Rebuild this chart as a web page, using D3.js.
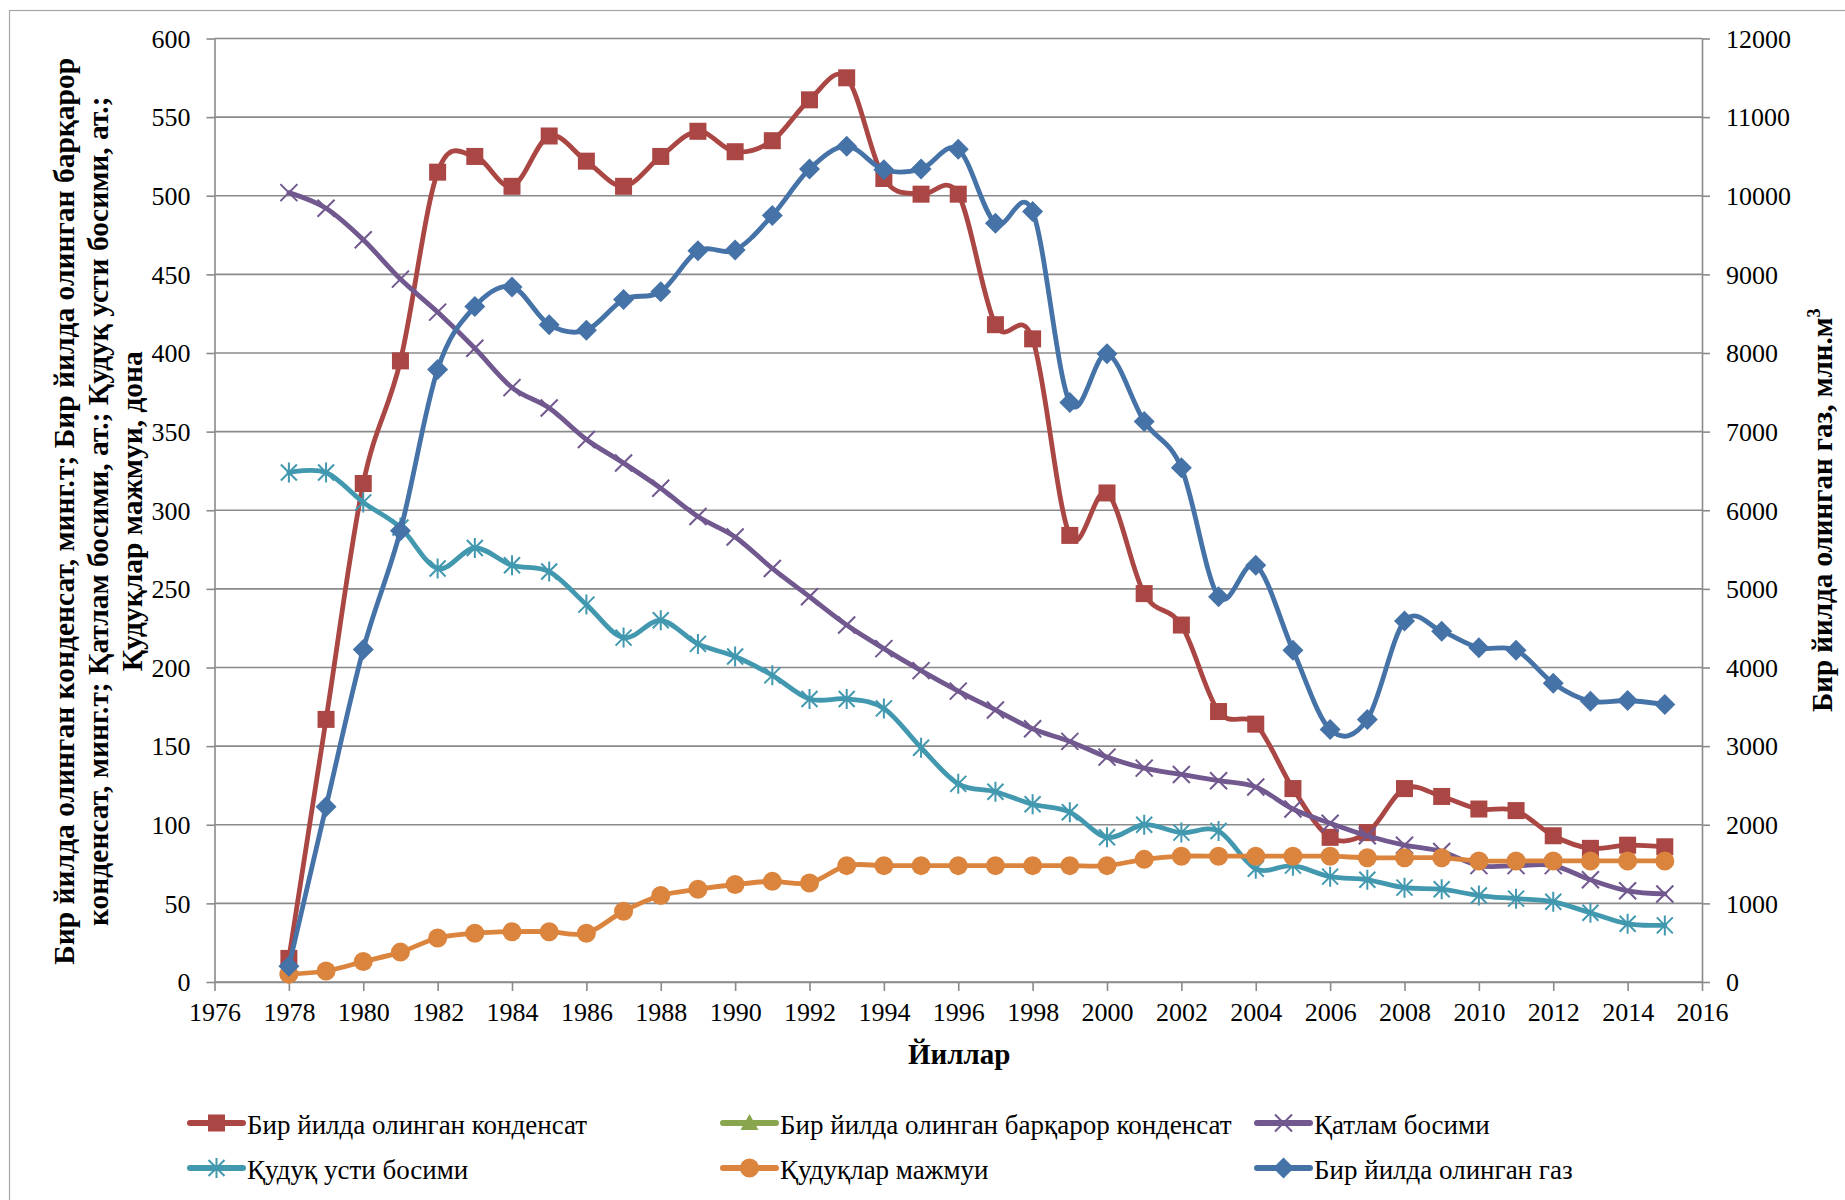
<!DOCTYPE html>
<html>
<head>
<meta charset="utf-8">
<script src="https://cdn.jsdelivr.net/npm/d3@7"></script>
<style>
  body { margin: 0; background: #fff; }
  svg { display: block; font-family: "Liberation Serif", "Times New Roman", serif; }
</style>
</head>
<body>
<div id="chart"></div>
<script>
var years = [1978, 1979, 1980, 1981, 1982, 1983, 1984, 1985, 1986, 1987,
             1988, 1989, 1990, 1991, 1992, 1993, 1994, 1995, 1996, 1997,
             1998, 1999, 2000, 2001, 2002, 2003, 2004, 2005, 2006, 2007,
             2008, 2009, 2010, 2011, 2012, 2013, 2014, 2015];

// left axis series
var condensate = [15, 167, 317, 395, 515, 525, 506, 538, 522, 506,
                  525, 541, 528, 535, 561, 575, 511, 501, 501, 418,
                  409, 284, 311, 247, 227, 172, 164, 123, 92, 95,
                  123, 118, 110, 109, 93, 85, 87, 86];
var stableCondensate = [];
var reservoirPressure = [502, 492, 472, 447, 426, 403, 378, 365, 345, 330,
                         314, 296, 283, 263, 245, 227, 212, 198, 185, 173,
                         161, 153, 143, 136, 132, 128, 124, 110, 101, 93,
                         87, 83, 74, 74, 74, 65, 58, 56];
var wellheadPressure = [324, 324, 305, 289, 263, 276, 265, 261, 240, 219,
                        230, 215, 207, 195, 180, 180, 174, 149, 126, 121,
                        113, 108, 92, 100, 95, 96, 72, 74, 67, 65,
                        60, 59, 55, 53, 51, 44, 37, 36];
var wells = [5, 7, 13, 19, 28, 31, 32, 32, 31, 45,
             55, 59, 62, 64, 63, 74, 74, 74, 74, 74,
             74, 74, 74, 78, 80, 80, 80, 80, 80, 79,
             79, 79, 77, 77, 77, 77, 77, 77];
// right axis series
var gas = [200, 2230, 4230, 5740, 7790, 8590, 8840, 8360, 8290, 8680,
           8780, 9300, 9310, 9750, 10340, 10630, 10330, 10340, 10590, 9650,
           9800, 7370, 7990, 7130, 6540, 4900, 5300, 4220, 3210, 3340,
           4590, 4460, 4250, 4220, 3800, 3570, 3580, 3530];

var xTicks = [1976, 1978, 1980, 1982, 1984, 1986, 1988, 1990, 1992, 1994,
              1996, 1998, 2000, 2002, 2004, 2006, 2008, 2010, 2012, 2014, 2016];
var leftTicks = [0, 50, 100, 150, 200, 250, 300, 350, 400, 450, 500, 550, 600];
var rightTicks = [0, 1000, 2000, 3000, 4000, 5000, 6000, 7000, 8000, 9000, 10000, 11000, 12000];

var w = 1845, h = 1200;
var plotL = 214.5, plotR = 1702, plotT = 38.5, plotB = 982;
var tickFont = 26;
var gridColor = "#8a8a8a";

var svg = d3.select("#chart").append("svg")
  .attr("width", w)
  .attr("height", h);

svg.append("rect").attr("width", w).attr("height", h).attr("fill", "#fff");
// outer chart frame (only left and top edges fall inside the picture)
svg.append("rect")
  .attr("x", 9.5).attr("y", 10.5)
  .attr("width", w).attr("height", h)
  .attr("fill", "none")
  .attr("stroke", "#a6a6a6")
  .attr("stroke-width", 1.2);

var x = d3.scaleLinear().domain([1976, 2016]).range([plotL, plotR]);
var yL = d3.scaleLinear().domain([0, 600]).range([plotB, plotT]);
var yR = d3.scaleLinear().domain([0, 12000]).range([plotB, plotT]);

// gridlines
svg.append("g")
  .selectAll("line")
  .data(leftTicks)
  .enter()
  .append("line")
  .attr("x1", plotL)
  .attr("x2", plotR)
  .attr("y1", function(d) { return yL(d); })
  .attr("y2", function(d) { return yL(d); })
  .attr("stroke", gridColor)
  .attr("stroke-width", 1.6);

function styleAxis(g) {
  g.selectAll("path").attr("stroke", gridColor).attr("stroke-width", 1.6);
  g.selectAll("line").attr("stroke", gridColor).attr("stroke-width", 1.6);
  g.selectAll("text")
    .attr("font-family", "Liberation Serif")
    .attr("font-size", tickFont)
    .attr("fill", "#000");
}

svg.append("g")
  .attr("transform", "translate(" + plotL + ",0)")
  .call(d3.axisLeft(yL).tickValues(leftTicks).tickSize(8).tickSizeOuter(0).tickPadding(16))
  .call(styleAxis)
  .call(function(g) { g.selectAll("text").attr("dy", "0.34em"); });

svg.append("g")
  .attr("transform", "translate(" + plotR + ",0)")
  .call(d3.axisRight(yR).tickValues(rightTicks).tickFormat(d3.format("d"))
    .tickSize(8).tickSizeOuter(0).tickPadding(16))
  .call(styleAxis)
  .call(function(g) { g.selectAll("text").attr("dy", "0.34em"); });

svg.append("g")
  .attr("transform", "translate(0," + plotB + ")")
  .call(d3.axisBottom(x).tickValues(xTicks).tickFormat(d3.format("d")).tickSize(9).tickSizeOuter(0).tickPadding(12))
  .call(styleAxis);

// marker shapes
var markers = {
  square: function(g, c) {
    g.append("rect").attr("x", -8.5).attr("y", -8.5).attr("width", 17).attr("height", 17)
      .attr("fill", c);
  },
  triangle: function(g, c) {
    g.append("path").attr("d", "M0,-9L9,7L-9,7Z").attr("fill", c);
  },
  cross: function(g, c) {
    g.append("path").attr("d", "M-8.5,-8.5L8.5,8.5M-8.5,8.5L8.5,-8.5")
      .attr("stroke", c).attr("stroke-width", 2).attr("fill", "none");
  },
  star: function(g, c) {
    g.append("path").attr("d", "M-8,-8L8,8M-8,8L8,-8M0,-10L0,10")
      .attr("stroke", c).attr("stroke-width", 2).attr("fill", "none");
  },
  circle: function(g, c) {
    g.append("circle").attr("r", 9.5).attr("fill", c);
  },
  diamond: function(g, c) {
    g.append("path").attr("d", "M0,-10.5L10.5,0L0,10.5L-10.5,0Z").attr("fill", c);
  }
};

var series = [
  { name: "Бир йилда олинган конденсат", values: condensate, y: yL, color: "#AA4643", marker: "square" },
  { name: "Бир йилда олинган барқарор конденсат", values: stableCondensate, y: yL, color: "#89A54E", marker: "triangle" },
  { name: "Қатлам босими", values: reservoirPressure, y: yL, color: "#71588F", marker: "cross" },
  { name: "Қудуқ усти босими", values: wellheadPressure, y: yL, color: "#4198AF", marker: "star" },
  { name: "Қудуқлар мажмуи", values: wells, y: yL, color: "#DB843D", marker: "circle" },
  { name: "Бир йилда олинган газ", values: gas, y: yR, color: "#4572A7", marker: "diamond" }
];

series.forEach(function(s) {
  var pts = s.values.map(function(v, i) { return [years[i], v]; });
  if (!pts.length) return;
  var line = d3.line()
    .x(function(d) { return x(d[0]); })
    .y(function(d) { return s.y(d[1]); })
    .curve(d3.curveCardinal.tension(0));
  var g = svg.append("g");
  g.append("path")
    .datum(pts)
    .attr("d", line)
    .attr("fill", "none")
    .attr("stroke", s.color)
    .attr("stroke-width", 4.8)
    .attr("stroke-linejoin", "round")
    .attr("stroke-linecap", "round");
  g.selectAll("g.m")
    .data(pts)
    .enter()
    .append("g")
    .attr("class", "m")
    .attr("transform", function(d) { return "translate(" + x(d[0]) + "," + s.y(d[1]) + ")"; })
    .each(function() { markers[s.marker](d3.select(this), s.color); });
});

// axis titles
svg.append("text")
  .attr("x", (plotL + plotR) / 2 + 1)
  .attr("y", 1064)
  .attr("text-anchor", "middle")
  .attr("font-size", 29)
  .attr("font-weight", "bold")
  .text("Йиллар");

var leftTitle = [
  "Бир йилда олинган конденсат, минг.т; Бир йилда олинган барқарор",
  "конденсат, минг.т; Қатлам босими, ат.; Қудуқ усти босими, ат.;",
  "Қудуқлар мажмуи, дона"
];
var midY = (plotT + plotB) / 2;
svg.append("g")
  .selectAll("text")
  .data(leftTitle)
  .enter()
  .append("text")
  .attr("transform", function(d, i) { return "translate(" + (74 + i * 34) + "," + (midY + 1) + ") rotate(-90)"; })
  .attr("text-anchor", "middle")
  .attr("font-size", 29.5)
  .attr("font-weight", "bold")
  .text(function(d) { return d; });

var rt = svg.append("text")
  .attr("transform", "translate(1832," + midY + ") rotate(-90)")
  .attr("text-anchor", "middle")
  .attr("font-size", 29)
  .attr("font-weight", "bold");
rt.append("tspan").text("Бир йилда олинган газ, млн.м");
rt.append("tspan").attr("font-size", 18).attr("dy", -12).text("3");

// legend
var legendCols = [188, 721, 1255];
var legendRows = [1123, 1168];
var lg = svg.append("g")
  .selectAll("g")
  .data(series)
  .enter()
  .append("g")
  .attr("transform", function(d, i) {
    return "translate(" + legendCols[i % 3] + "," + legendRows[Math.floor(i / 3)] + ")";
  });
lg.append("line")
  .attr("x1", 2).attr("x2", 55)
  .attr("stroke", function(d) { return d.color; })
  .attr("stroke-width", 6)
  .attr("stroke-linecap", "round");
lg.append("g")
  .attr("transform", "translate(28.5,0)")
  .each(function(d) { markers[d.marker](d3.select(this), d.color); });
lg.append("text")
  .attr("x", 59)
  .attr("y", 11)
  .attr("font-size", 27)
  .text(function(d) { return d.name; });
</script>
</body>
</html>
